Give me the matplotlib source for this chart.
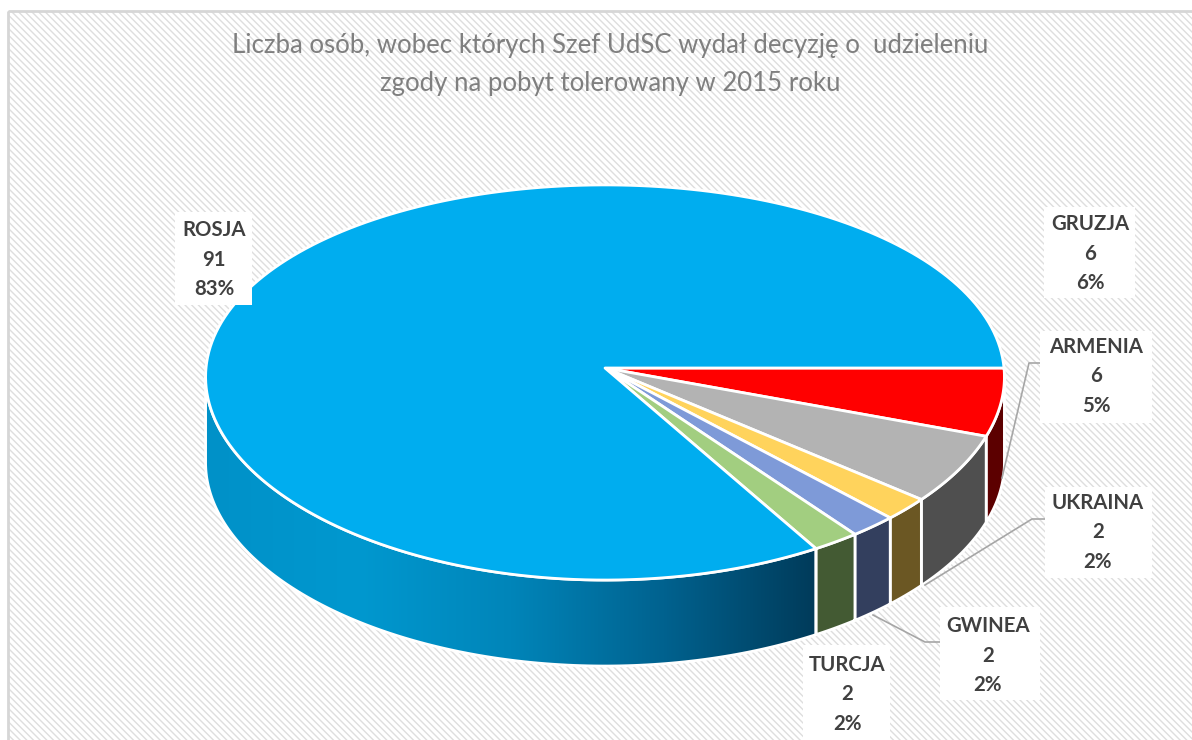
"""
Liczba osob - 3D pie chart drawn on a flat axes with a perspective mapping
"""
import numpy as np
import matplotlib
matplotlib.use("Agg")
import matplotlib.pyplot as plt
from matplotlib.colors import LinearSegmentedColormap
from matplotlib.patches import Polygon, Rectangle

# data, clockwise from 3 o'clock
countries = ["GRUZJA", "ARMENIA", "UKRAINA", "GWINEA", "TURCJA", "ROSJA"]
counts = [6, 6, 2, 2, 2, 91]
percents = ["6%", "5%", "2%", "2%", "2%", "83%"]

top_colors = ["#ff0000", "#b3b3b3", "#ffd35c", "#7e9ad8", "#a2ce80", "#00adef"]
wall_colors = ["#5c0000", "#4f4f4f", "#6b5723", "#333f5e", "#435a33", None]

title_lines = ["Liczba osób, wobec których Szef UdSC wydał decyzję o  udzieleniu",
               "zgody na pobyt tolerowany w 2015 roku"]

# label layout: centre x, first line y, box (x0, y0, x1, y1)
label_layout = {
    "ROSJA": (214, 230, (175, 212, 252, 305)),
    "GRUZJA": (1090, 224, (1044, 207, 1135, 298)),
    "ARMENIA": (1096, 347, (1040, 331, 1152, 423)),
    "UKRAINA": (1098, 503, (1045, 487, 1152, 578)),
    "GWINEA": (988, 626, (940, 607, 1040, 700)),
    "TURCJA": (847, 665, (803, 645, 890, 740)),
}
leaders = [
    ([1040, 1029, 1002], [363, 363, 478]),
    ([1045, 1032, 925], [519, 519, 585]),
    ([940, 925, 873], [642, 642, 615]),
]

# pie geometry in pixels
CX, CY = 605, 368
A, B = 399, 196.5
KX, KY = 0.045, 0.0733
DEPTH = 86
LINE_STEP = 29.5


def project(theta):
    """circle angle (radians, clockwise on screen) to picture coords"""
    c, s = np.cos(theta), np.sin(theta)
    return CX + A * c / (1 - KX * s), CY + B * s / (1 - KY * s)


def arc(a0, a1, n=200):
    return project(np.radians(np.linspace(a0, a1, n)))


def wall_poly(a0, a1):
    x, y = arc(a0, a1)
    return np.column_stack([np.r_[x, x[::-1]], np.r_[y, y[::-1] + DEPTH]])


fig = plt.figure(figsize=(11.92, 7.40), dpi=100)
ax = fig.add_axes([0, 0, 1, 1])
ax.axis("off")

# hatched chart area
plt.rcParams["hatch.linewidth"] = 1.0
ax.add_patch(Rectangle((8, 11), 1190, 740, facecolor="white", edgecolor="#dedede",
                       hatch="\\\\\\\\\\", linewidth=0, zorder=0))
ax.add_patch(Rectangle((8, 11), 1190, 740, fill=False, edgecolor="#d6d6d6",
                       linewidth=2, zorder=1))

angles = np.r_[0, np.cumsum(counts)] / np.sum(counts) * 360
left_limit = 180 - np.degrees(np.arcsin(KX))
right_limit = np.degrees(np.arcsin(KX))

# side walls
for i, color in enumerate(wall_colors):
    a0 = max(angles[i], right_limit)
    a1 = min(angles[i + 1], left_limit)
    pts = wall_poly(a0, a1)
    if color is None:
        cmap = LinearSegmentedColormap.from_list(
            "wall", ["#0091c8", "#0098cf", "#0085b9", "#00628f", "#003b5a"])
        x0, x1 = pts[:, 0].min(), pts[:, 0].max()
        im = ax.imshow(np.linspace(0, 1, 256).reshape(1, -1), cmap=cmap, aspect="auto",
                       extent=(x0, x1, pts[:, 1].max(), pts[:, 1].min()), zorder=2)
        im.set_clip_path(Polygon(pts, transform=ax.transData))
        ax.add_patch(Polygon(pts, fill=False, edgecolor="white", linewidth=2, zorder=3))
    else:
        ax.add_patch(Polygon(pts, facecolor=color, edgecolor="white", linewidth=2, zorder=3))

# top of the pie
for i, color in enumerate(top_colors):
    x, y = arc(angles[i], angles[i + 1])
    pts = np.column_stack([np.r_[CX, x], np.r_[CY, y]])
    ax.add_patch(Polygon(pts, facecolor=color, edgecolor="white", linewidth=2,
                         joinstyle="round", zorder=4))

# leader lines
for lx, ly in leaders:
    ax.plot(lx, ly, color="#a6a6a6", linewidth=1.2, zorder=5)

# labels
for name, count, pct in zip(countries, counts, percents):
    cx, y0, box = label_layout[name]
    ax.add_patch(Rectangle((box[0], box[1]), box[2] - box[0], box[3] - box[1],
                           facecolor="white", edgecolor="none", zorder=6))
    for j, line in enumerate([name, str(count), pct]):
        ax.text(cx, y0 + j * LINE_STEP, line, family="Lato", fontweight="bold",
                fontsize=14.7, color="#404040", ha="center", va="center", zorder=7)

# title
for j, line in enumerate(title_lines):
    ax.text(610, 46 + j * 37, line, family="Lato", fontsize=18.5,
            color="#7f7f7f", ha="center", va="center", zorder=7)

ax.set_xlim(0, 1192)
ax.set_ylim(740, 0)
fig.savefig("out.png", dpi=100)
